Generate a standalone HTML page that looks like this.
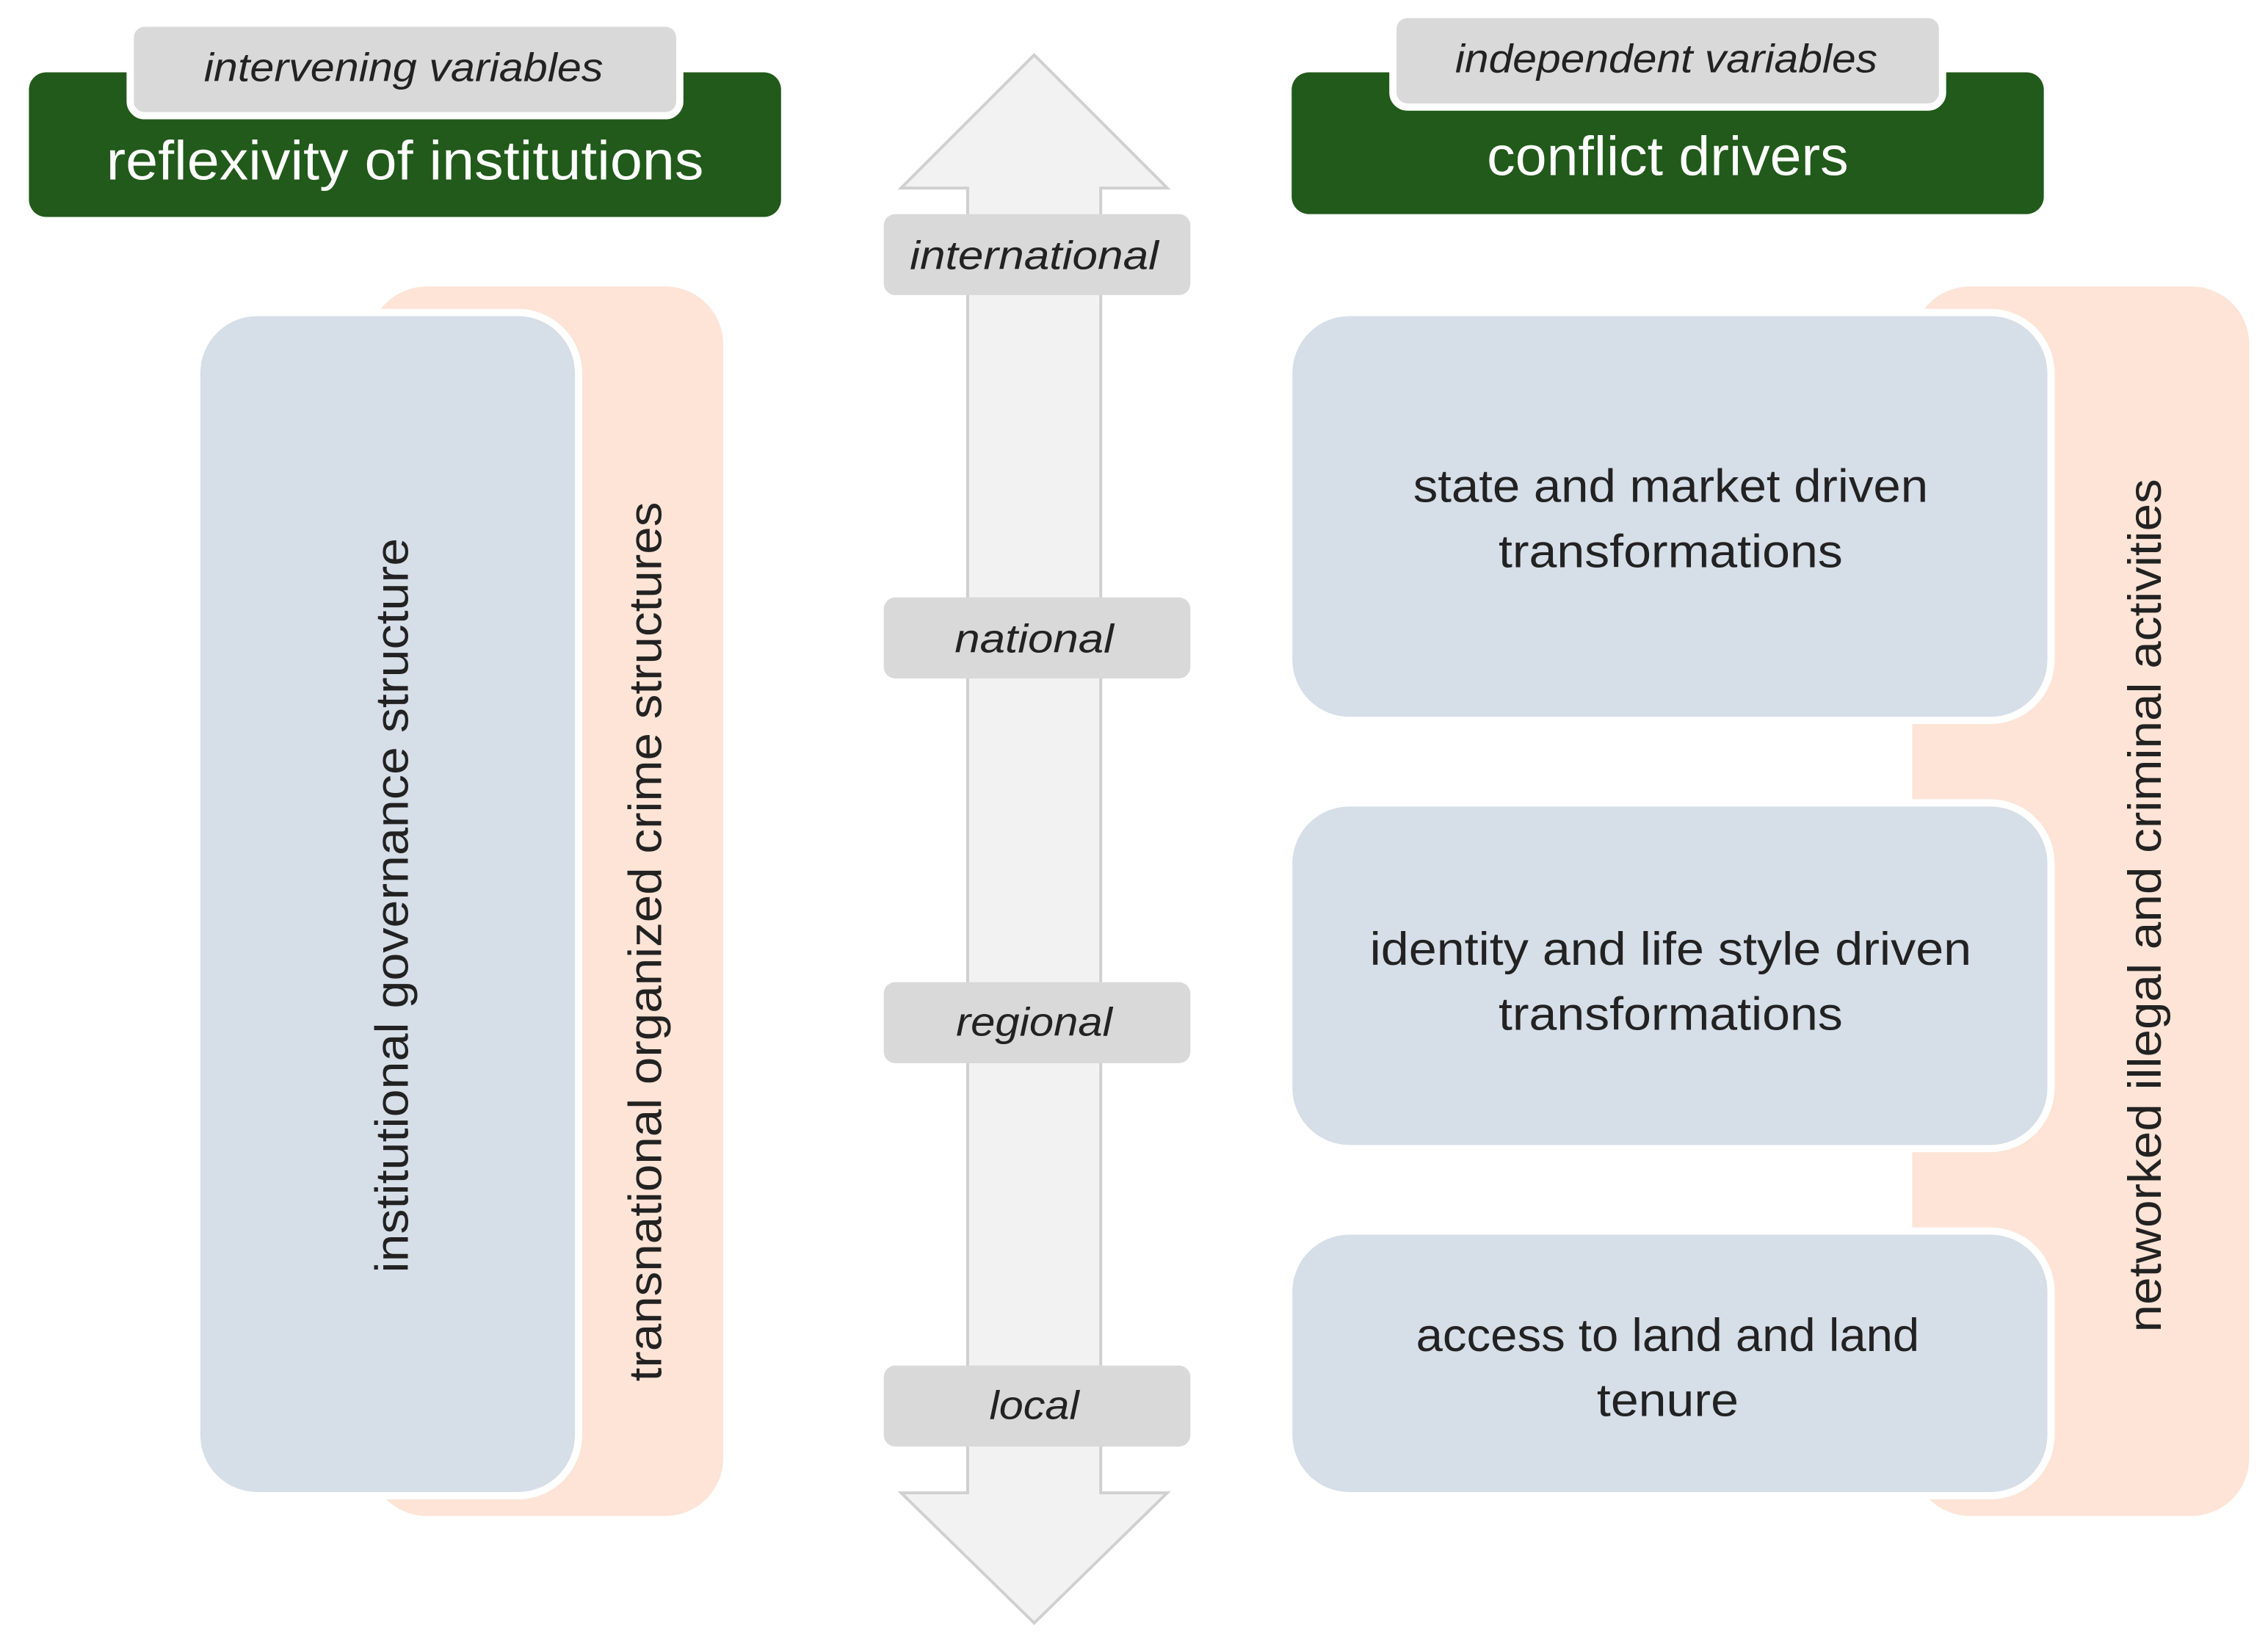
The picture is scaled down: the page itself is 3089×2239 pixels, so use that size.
<!DOCTYPE html>
<html><head><meta charset="utf-8"><style>
html,body{margin:0;padding:0;background:#fff}
svg{display:block}
text{font-family:"Liberation Sans",sans-serif}
</style></head><body>
<svg width="3089" height="2239" viewBox="0 0 1568 1136.5" preserveAspectRatio="none" xmlns="http://www.w3.org/2000/svg">
<rect width="1568" height="1137" fill="#fff"/>
<!-- headers -->
<rect x="20" y="50" width="520" height="100" rx="12" fill="#215a1a"/>
<rect x="90" y="16" width="380" height="64" rx="10" fill="#d9d9d9" stroke="#fff" stroke-width="5"/>
<text x="279" y="56" font-size="28" font-style="italic" text-anchor="middle" fill="#222" textLength="276" lengthAdjust="spacingAndGlyphs">intervening variables</text>
<text x="280" y="124" font-size="38" text-anchor="middle" fill="#fff" textLength="413" lengthAdjust="spacingAndGlyphs">reflexivity of institutions</text>

<rect x="893" y="50" width="520" height="98" rx="12" fill="#215a1a"/>
<rect x="963" y="10" width="380" height="64" rx="10" fill="#d9d9d9" stroke="#fff" stroke-width="5"/>
<text x="1152" y="50" font-size="28" font-style="italic" text-anchor="middle" fill="#222" textLength="292" lengthAdjust="spacingAndGlyphs">independent variables</text>
<text x="1153" y="121" font-size="38" text-anchor="middle" fill="#fff" textLength="250" lengthAdjust="spacingAndGlyphs">conflict drivers</text>

<!-- arrow -->
<path d="M715 38 L807 130 L761 130 L761 1032 L807 1032 L715 1122 L623 1032 L669 1032 L669 130 L623 130 Z" fill="#f2f2f2" stroke="#d0d0d0" stroke-width="2"/>
<g font-size="28" font-style="italic" text-anchor="middle" fill="#222">
<rect x="611" y="148" width="212" height="56" rx="8" fill="#d9d9d9"/><text x="715" y="186" textLength="172" lengthAdjust="spacingAndGlyphs">international</text>
<rect x="611" y="413" width="212" height="56" rx="8" fill="#d9d9d9"/><text x="715" y="451" textLength="110" lengthAdjust="spacingAndGlyphs">national</text>
<rect x="611" y="679" width="212" height="56" rx="8" fill="#d9d9d9"/><text x="715" y="716" textLength="108" lengthAdjust="spacingAndGlyphs">regional</text>
<rect x="611" y="944" width="212" height="56" rx="8" fill="#d9d9d9"/><text x="715" y="981" textLength="62" lengthAdjust="spacingAndGlyphs">local</text>
</g>

<!-- left -->
<rect x="255" y="198" width="245" height="850" rx="40" fill="#fde4d6"/>
<rect x="136" y="216" width="264" height="818" rx="42" fill="#d6dee8" stroke="#fff" stroke-width="5"/>
<text transform="translate(282,626) rotate(-90)" font-size="32" text-anchor="middle" fill="#222" textLength="508" lengthAdjust="spacingAndGlyphs">institutional governance structure</text>
<text transform="translate(457,651) rotate(-90)" font-size="32" text-anchor="middle" fill="#222" textLength="608" lengthAdjust="spacingAndGlyphs">transnational organized crime structures</text>

<!-- right -->
<rect x="1322" y="198" width="233" height="850" rx="40" fill="#fde4d6"/>
<rect x="891" y="216" width="527" height="282" rx="42" fill="#d6dee8" stroke="#fff" stroke-width="5"/>
<rect x="891" y="555" width="527" height="239" rx="42" fill="#d6dee8" stroke="#fff" stroke-width="5"/>
<rect x="891" y="851" width="527" height="183" rx="42" fill="#d6dee8" stroke="#fff" stroke-width="5"/>
<g font-size="32" text-anchor="middle" fill="#222">
<text x="1155" y="347" textLength="356" lengthAdjust="spacingAndGlyphs">state and market driven</text>
<text x="1155" y="392" textLength="238" lengthAdjust="spacingAndGlyphs">transformations</text>
<text x="1155" y="667" textLength="416" lengthAdjust="spacingAndGlyphs">identity and life style driven</text>
<text x="1155" y="712" textLength="238" lengthAdjust="spacingAndGlyphs">transformations</text>
<text x="1153" y="934" textLength="348" lengthAdjust="spacingAndGlyphs">access to land and land</text>
<text x="1153" y="979" textLength="98" lengthAdjust="spacingAndGlyphs">tenure</text>
</g>
<text transform="translate(1494,626) rotate(-90)" font-size="32" text-anchor="middle" fill="#222" textLength="590" lengthAdjust="spacingAndGlyphs">networked illegal and criminal activities</text>
</svg>
</body></html>
